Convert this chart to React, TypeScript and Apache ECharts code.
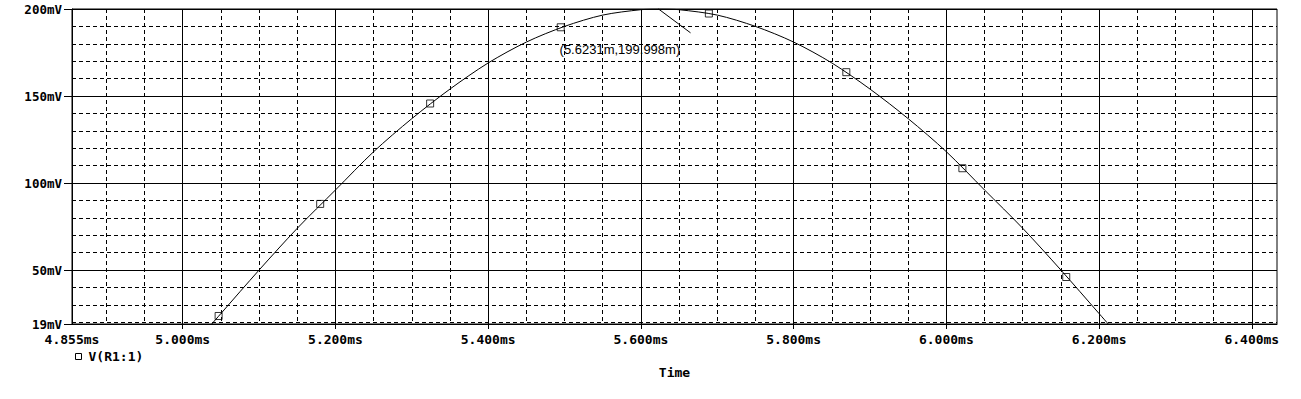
import React, { useEffect, useRef } from "react";
import * as echarts from "echarts";

// Trace V(R1:1): time in ms, voltage in mV
const TIME_MS = [
  5.0, 5.05, 5.1, 5.15, 5.2, 5.25, 5.3, 5.35, 5.4, 5.45, 5.5, 5.55, 5.6, 5.625,
  5.65, 5.7, 5.75, 5.8, 5.85, 5.9, 5.95, 6.0, 6.05, 6.1, 6.15, 6.2, 6.25,
];
const V_MV = [
  0, 25, 50, 74, 96, 118, 137, 154, 169, 181, 190, 196.5, 199.6, 200,
  199.6, 196.5, 190, 181, 169, 154, 137, 118, 96, 74, 50, 25, 0,
];

// Square trace markers
const MARKER_T = [5.047, 5.18, 5.324, 5.495, 5.689, 5.869, 6.021, 6.157];
const MARKER_V = [23.6, 88, 145.7, 189.5, 197.4, 163.7, 108.5, 46];

// Axis ticks
const X_MIN = 4.855;
const X_MAX = 6.433;
const X_LABELS = [4.855, 5.0, 5.2, 5.4, 5.6, 5.8, 6.0, 6.2, 6.4];
const X_MAJOR = [5.0, 5.2, 5.4, 5.6, 5.8, 6.0, 6.2, 6.4];
const X_MINOR = [
  4.9, 4.95, 5.05, 5.1, 5.15, 5.25, 5.3, 5.35, 5.45, 5.5, 5.55, 5.65, 5.7,
  5.75, 5.85, 5.9, 5.95, 6.05, 6.1, 6.15, 6.25, 6.3, 6.35,
];
const Y_MIN = 19;
const Y_MAX = 200;
const Y_MAJOR = [19, 50, 100, 150, 200];
const Y_MINOR = [20, 30, 40, 60, 70, 80, 90, 110, 120, 130, 140, 160, 170, 180, 190];

// Cursor annotation
const CURSOR_T = 5.6231;
const CURSOR_V = 199.998;
const CURSOR_LABEL = "(5.6231m,199.998m)";
const POINTER_END = [5.665, 186.3];
const LABEL_POS = [5.5725, 177];

const SERIES_NAME = "V(R1:1)";

const MONO = "DejaVu Sans Mono";

export default function App() {
  const ref = useRef<HTMLDivElement>(null);

  useEffect(() => {
    if (!ref.current) return;
    const chart = echarts.init(ref.current, undefined, { renderer: "svg" });
    const dash = [4, 3];
    chart.setOption({
      animation: false,
      backgroundColor: "#fff",
      grid: {
        left: 72,
        top: 9,
        width: 1205,
        height: 315,
        show: true,
        borderColor: "#000",
        borderWidth: 1,
        backgroundColor: "transparent",
      },
      legend: {
        left: 75,
        top: 350,
        padding: 0,
        itemWidth: 6,
        itemHeight: 6,
        data: [
          {
            name: SERIES_NAME,
            icon: "rect",
            itemStyle: { color: "#fff", borderColor: "#000", borderWidth: 1 },
          },
        ],
        textStyle: {
          fontFamily: MONO,
          fontWeight: "bold",
          fontSize: 13,
          color: "#000",
          padding: [0, 0, 0, 2],
        },
      },
      xAxis: [
        {
          type: "value",
          min: X_MIN,
          max: X_MAX,
          position: "bottom",
          axisLine: { show: true, lineStyle: { color: "#000", width: 1 } },
          axisTick: {
            show: true,
            customValues: X_MAJOR,
            length: 5,
            lineStyle: { color: "#000", width: 1 },
          },
          axisLabel: {
            customValues: X_LABELS,
            margin: 9,
            color: "#000",
            fontFamily: MONO,
            fontWeight: "bold",
            fontSize: 13,
            formatter: (v: number) => v.toFixed(3) + "ms",
          },
          splitLine: { show: true, lineStyle: { color: "#000", width: 1, type: "solid" } },
          name: "Time",
          nameLocation: "middle",
          nameGap: 42,
          nameTextStyle: {
            fontFamily: MONO,
            fontWeight: "bold",
            fontSize: 13,
            color: "#000",
          },
          z: 3,
        },
        {
          type: "value",
          min: X_MIN,
          max: X_MAX,
          position: "bottom",
          axisLine: { show: false },
          axisTick: { show: false, customValues: X_MINOR },
          axisLabel: { show: false },
          splitLine: { show: true, lineStyle: { color: "#000", width: 1, type: dash } },
          z: 2,
        },
      ],
      yAxis: [
        {
          type: "value",
          min: Y_MIN,
          max: Y_MAX,
          position: "left",
          axisLine: { show: true, lineStyle: { color: "#000", width: 1 } },
          axisTick: {
            show: true,
            customValues: Y_MAJOR,
            length: 8,
            lineStyle: { color: "#000", width: 1 },
          },
          axisLabel: {
            customValues: Y_MAJOR,
            margin: 10,
            color: "#000",
            fontFamily: MONO,
            fontWeight: "bold",
            fontSize: 12.5,
            formatter: (v: number) => v + "mV",
          },
          splitLine: { show: true, lineStyle: { color: "#000", width: 1, type: "solid" } },
          z: 3,
        },
        {
          type: "value",
          min: Y_MIN,
          max: Y_MAX,
          position: "left",
          axisLine: { show: false },
          axisTick: { show: false, customValues: Y_MINOR },
          axisLabel: { show: false },
          splitLine: { show: true, lineStyle: { color: "#000", width: 1, type: dash } },
          z: 2,
        },
      ],
      series: [
        {
          name: SERIES_NAME,
          type: "line",
          xAxisIndex: 0,
          yAxisIndex: 0,
          data: TIME_MS.map((t, i) => [t, V_MV[i]]),
          showSymbol: false,
          symbol: "none",
          clip: true,
          smooth: 0.3,
          lineStyle: { color: "#000", width: 1 },
          itemStyle: { color: "#000" },
          z: 5,
          markLine: {
            silent: true,
            symbol: ["none", "none"],
            label: { show: false },
            lineStyle: { color: "#000", width: 1, type: "solid" },
            data: [[{ coord: [CURSOR_T, CURSOR_V] }, { coord: POINTER_END }]],
          },
          markPoint: {
            silent: true,
            symbol: "circle",
            symbolSize: 0,
            label: {
              show: true,
              position: "inside",
              formatter: CURSOR_LABEL,
              color: "#000",
              fontFamily: "Liberation Sans",
              fontSize: 13,
            },
            data: [{ coord: LABEL_POS }],
          },
        },
        {
          name: "markers",
          type: "scatter",
          xAxisIndex: 0,
          yAxisIndex: 0,
          data: MARKER_T.map((t, i) => [t, MARKER_V[i]]),
          symbol: "rect",
          symbolSize: 7,
          itemStyle: { color: "transparent", borderColor: "#000", borderWidth: 1 },
          z: 6,
        },
      ],
    });
    return () => chart.dispose();
  }, []);

  return (
    <div
      ref={ref}
      style={{ position: "fixed", left: 0, top: 0, width: 1301, height: 399, background: "#fff" }}
    />
  );
}
